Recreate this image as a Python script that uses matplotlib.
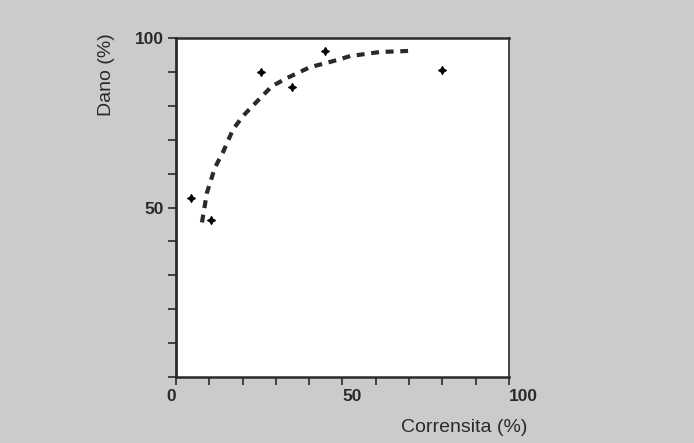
import matplotlib.pyplot as plt

# observed points (Corrensita %, Dano %)
obs_x = [4.5, 10.5, 25.5, 34.8, 44.7, 79.9]
obs_y = [52.7, 46.4, 89.9, 85.5, 96.2, 90.5]

# fitted curve
fit_x = [7.8, 9.3, 11.7, 14.1, 17.1, 20.1, 25.8, 28.8, 33.3, 40.2, 48.3, 52.3, 61.3, 69.7]
fit_y = [45.6, 54.4, 61.8, 66.3, 73.0, 77.0, 82.8, 85.8, 88.2, 91.4, 93.5, 94.7, 95.9, 96.2]

x_ticks = list(range(0, 101, 10))
y_ticks = list(range(0, 101, 10))
x_labels = ['0' if t == 0 else ('50' if t == 50 else ('100' if t == 100 else '')) for t in x_ticks]
y_labels = ['50' if t == 50 else ('100' if t == 100 else '') for t in y_ticks]

bg = '#cbcbcb'
ink = '#2a2a2a'

plt.rcParams['font.family'] = ['Liberation Sans', 'DejaVu Sans']

fig = plt.figure(figsize=(6.94, 4.43), dpi=100, facecolor=bg)
ax = fig.add_axes([0.2536, 0.149, 0.4798, 0.765])
ax.set_facecolor('white')

ax.plot(fit_x, fit_y, color=ink, lw=3.0, dashes=(1.9, 1.6), solid_capstyle='butt')
ax.scatter(obs_x, obs_y, marker=(4, 1, 0), s=30, color='black', zorder=3)

ax.set_xlim(0, 100)
ax.set_ylim(0, 100)
ax.set_xticks(x_ticks)
ax.set_xticklabels(x_labels, fontsize=12.5, fontweight='bold', color=ink)
ax.set_yticks(y_ticks)
ax.set_yticklabels(y_labels, fontsize=12.5, fontweight='bold', color=ink)
ax.tick_params(direction='out', length=6, width=1.2, colors=ink, pad=3)
for lbl in ax.get_xticklabels():
    if lbl.get_text() == '0':
        lbl.set_ha('right')
    elif lbl.get_text():
        lbl.set_ha('left')

for s in ax.spines.values():
    s.set_color(ink)
    s.set_linewidth(1.2)
ax.spines['left'].set_linewidth(2)
ax.spines['bottom'].set_linewidth(1.8)
ax.spines['top'].set_linewidth(1.8)

fig.text(0.76, 0.034, 'Corrensita (%)', ha='right', va='center', fontsize=14, color=ink)
fig.text(0.154, 0.832, 'Dano (%)', ha='center', va='center', rotation=90, fontsize=14, color=ink)

plt.savefig('out.png', dpi=100, facecolor=bg)
plt.close()
